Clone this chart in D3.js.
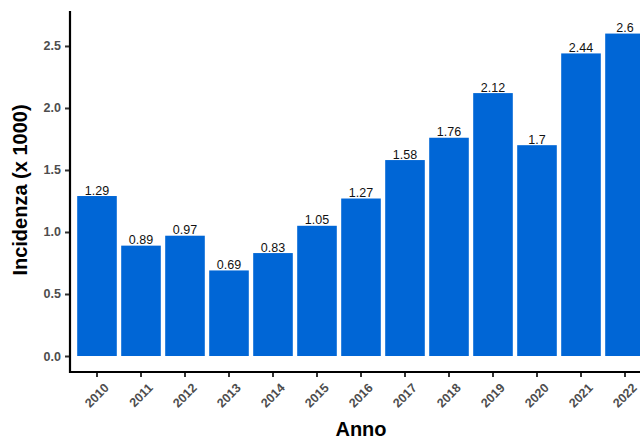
<!DOCTYPE html>
<html><head><meta charset="utf-8">
<script src="https://cdn.jsdelivr.net/npm/d3@7"></script>
<style>body{margin:0;background:#fff}svg{display:block}</style>
</head><body>
<script>
const years = ["2010","2011","2012","2013","2014","2015","2016","2017","2018","2019","2020","2021","2022"];
const values = [1.29,0.89,0.97,0.69,0.83,1.05,1.27,1.58,1.76,2.12,1.7,2.44,2.6];
const labels = ["1.29","0.89","0.97","0.69","0.83","1.05","1.27","1.58","1.76","2.12","1.7","2.44","2.6"];
const yTicks = [0,0.5,1,1.5,2,2.5];

const W=640,H=439;
const svg=d3.select("body").append("svg").attr("width",W).attr("height",H);
const x=d3.scaleBand().domain(years).range([75,647]).paddingInner(0.1).paddingOuter(0.05);
const y=d3.scaleLinear().domain([-0.129,2.782]).range([372,11]);

svg.append("g").selectAll("rect").data(values).join("rect")
  .attr("x",(d,i)=>x(years[i])).attr("width",x.bandwidth())
  .attr("y",d=>y(d)).attr("height",d=>y(0)-y(d)).attr("fill","#0066D6");

svg.append("g").selectAll("text").data(values).join("text")
  .attr("x",(d,i)=>x(years[i])+x.bandwidth()/2).attr("y",d=>y(d)-1.5)
  .attr("text-anchor","middle").attr("font-family","Liberation Sans, Arial, sans-serif")
  .attr("font-size",12.5).attr("fill","#111").text((d,i)=>labels[i]);

const yAxis=svg.append("g").attr("transform","translate(70,0)")
  .call(d3.axisLeft(y).tickValues(yTicks).tickFormat(d3.format(".1f")).tickSize(5).tickSizeOuter(0).tickPadding(4));
const xAxis=svg.append("g").attr("transform","translate(0,372)")
  .call(d3.axisBottom(x).tickSize(5).tickSizeOuter(0).tickPadding(3));
[yAxis,xAxis].forEach(g=>{
  g.select(".domain").remove();
  g.selectAll(".tick line").attr("stroke","#333").attr("stroke-width",2);
  g.selectAll(".tick text").attr("font-family","Liberation Sans, Arial, sans-serif")
   .attr("font-size",12.5).attr("font-weight","bold").attr("fill","#4d4d4d");
});
svg.append("path").attr("d","M70,11V372H651").attr("fill","none").attr("stroke","#000").attr("stroke-width",2.2);
xAxis.selectAll(".tick text").attr("text-anchor","end").attr("dy",0)
  .attr("transform","translate(7,11) rotate(-45)");

svg.append("text").attr("transform","translate(27,190) rotate(-90)").attr("text-anchor","middle")
  .attr("font-family","Liberation Sans, Arial, sans-serif").attr("font-size",20).attr("font-weight","bold")
  .attr("fill","#000").text("Incidenza (x 1000)");
svg.append("text").attr("x",361).attr("y",436).attr("text-anchor","middle")
  .attr("font-family","Liberation Sans, Arial, sans-serif").attr("font-size",20).attr("font-weight","bold")
  .attr("fill","#000").text("Anno");
</script>
</body></html>
